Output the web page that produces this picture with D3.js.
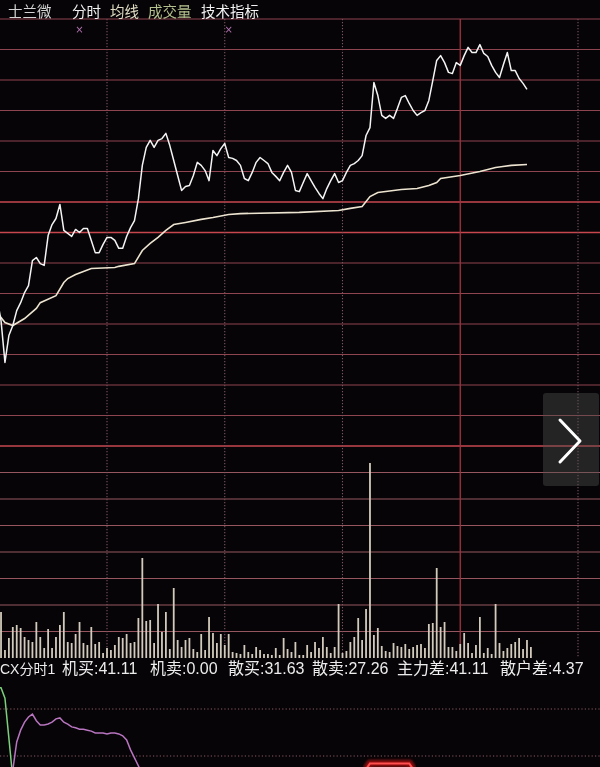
<!DOCTYPE html>
<html><head><meta charset="utf-8">
<script src="https://cdn.jsdelivr.net/npm/d3@7"></script>
<style>html,body{margin:0;padding:0;background:#060406;overflow:hidden}</style>
</head><body>
<svg id="chart" width="600" height="767"></svg>
<script>
// ---------------- DATA ----------------
const titleItems = ["士兰微", "分时", "均线", "成交量", "技术指标"];
const legendItems = ["CX分时1", "机买:41.11", "机卖:0.00", "散买:31.63", "散卖:27.26", "主力差:41.11", "散户差:4.37"];
// minutes since open where the vertical time grid sits (every 30 min, midday solid)
const timeTicks = [30, 60, 90, 120, 150];
const middayMinute = 120;
const markerMinutes = [23, 61];
// price change (%) vs previous close, one value per minute from minute 2
const priceStart = 2;
const priceChange = [-2.16,-2.89,-4.26,-3.38,-3.05,-2.56,-2.30,-1.97,-1.74,-0.92,-0.82,-1.02,-1.08,-0.10,0.26,0.46,0.92,0.07,-0.03,-0.13,0.10,0.00,0.13,0.13,-0.26,-0.66,-0.66,-0.39,-0.16,-0.16,-0.26,-0.52,-0.52,-0.13,0.16,0.39,1.11,2.20,2.79,3.02,2.79,3.02,3.08,3.25,2.85,2.36,1.87,1.38,1.51,1.54,1.87,2.30,2.20,2.03,1.70,2.69,2.52,2.75,2.92,2.46,2.43,2.36,2.20,1.77,1.70,1.97,2.30,2.46,2.36,2.26,1.97,1.84,1.70,1.97,2.20,1.97,1.38,1.34,1.64,1.93,1.70,1.48,1.28,1.11,1.44,1.70,1.93,1.64,1.70,1.97,2.20,2.26,2.36,2.52,3.18,3.44,4.92,4.49,3.84,3.74,3.84,3.74,4.07,4.43,4.49,4.23,4.00,3.84,3.93,4.00,4.33,4.98,5.64,5.80,5.57,5.25,5.21,5.57,5.48,5.80,6.07,5.90,5.90,6.16,5.87,5.77,5.48,5.25,5.08,5.51,5.90,5.31,5.31,5.05,4.89,4.69];
// average price line vertices
const avgMinutes = [2,4,6,9,12,13,17,19,20,22,24,26,32,33,37,39,41,43,45,47,50,54,57,61,64,79,89,92,95,97,99,105,109,112,114,115,120,125,129,133,137];
const avgChange = [-2.62,-2.95,-3.05,-2.82,-2.49,-2.30,-2.07,-1.64,-1.51,-1.38,-1.28,-1.18,-1.15,-1.11,-1.02,-0.59,-0.36,-0.16,0.07,0.26,0.33,0.43,0.49,0.59,0.62,0.66,0.72,0.79,0.85,1.18,1.31,1.41,1.44,1.54,1.64,1.77,1.87,2.00,2.13,2.20,2.23];
// volume (x100 lots), one bar per minute from minute 3
const volumeStart = 3;
const volumes = [46,8,20,31,33,30,21,18,16,36,21,10,29,10,21,33,46,16,15,24,36,15,13,31,14,16,5,10,8,13,21,20,24,15,16,40,100,37,38,15,54,26,46,9,70,18,11,18,20,9,6,24,8,41,25,15,24,13,24,6,5,4,13,6,4,11,8,4,4,3,10,3,20,9,6,16,3,3,13,6,16,10,21,11,5,11,54,5,7,16,21,40,18,49,195,23,30,12,7,6,15,12,11,14,9,11,13,14,10,34,35,90,31,36,11,11,7,14,25,15,5,13,41,5,10,4,54,15,7,10,14,16,20,9,18,11];
// price grid levels (%) and volume grid levels
const priceTicks = d3.range(-7, 8, 1);
const brightPriceTicks = [0, 1, -7];
const volumeTicks = d3.range(0, 213, 26.5);
// lower indicator (CX分时1)
const indTicks = [0, 100];
const greenMinutes = [2, 3, 4, 5, 6];
const greenValues = [145, 145, 123, 38, -47];
const purpleStart = 6;
const purpleValues = [-30,30,55,72,83,89,75,66,66,68,72,79,81,72,68,62,60,57,57,55,53,49,49,49,47,49,49,47,43,34,13,-4,-21,-38];
const redMinutes = [96, 97, 107, 108];
const redValues = [-28, -16, -16, -28];

// ---------------- LAYOUT ----------------
const W = 600, H = 767;
const svg = d3.select("#chart");
const defs = svg.append("defs");
const glow = defs.append("filter").attr("id", "glow").attr("x", "-5%").attr("y", "-300%").attr("width", "110%").attr("height", "700%");
glow.append("feGaussianBlur").attr("stdDeviation", 1.6);
const soft = defs.append("filter").attr("id", "soft");
soft.append("feGaussianBlur").attr("stdDeviation", 0.35);

svg.append("rect").attr("width", W).attr("height", H).attr("fill", "#060406");

const x = d3.scaleLinear().domain([0, 240]).range([-10.75, 931.25]);
const yP = d3.scaleLinear().domain([-7, 7]).range([446, 19]);
const yV = d3.scaleLinear().domain([0, 212]).range([658, 446]);
const yI = d3.scaleLinear().domain([0, 100]).range([756, 709]);

const g = svg.append("g").attr("filter", "url(#soft)");

// horizontal grid - price panel
const hp = g.append("g");
priceTicks.forEach(t => {
  const bright = brightPriceTicks.includes(t);
  hp.append("line").attr("x1", 0).attr("x2", W).attr("y1", yP(t)).attr("y2", yP(t))
    .attr("stroke", bright ? "#d01828" : "#a01828").attr("stroke-width", bright ? 4 : 3)
    .attr("opacity", bright ? 0.8 : 0.55).attr("filter", "url(#glow)");
  hp.append("line").attr("x1", 0).attr("x2", W).attr("y1", yP(t)).attr("y2", yP(t))
    .attr("stroke", bright ? "#c84650" : "#8e4450").attr("stroke-width", bright ? 1.6 : 1.2);
});
// horizontal grid - volume panel
volumeTicks.slice(1, -1).forEach(t => {
  hp.append("line").attr("x1", 0).attr("x2", W).attr("y1", yV(t)).attr("y2", yV(t))
    .attr("stroke", "#a01828").attr("stroke-width", 3).attr("opacity", 0.5).attr("filter", "url(#glow)");
  hp.append("line").attr("x1", 0).attr("x2", W).attr("y1", yV(t)).attr("y2", yV(t))
    .attr("stroke", "#955660").attr("stroke-width", 1.2);
});
// vertical grid
timeTicks.forEach(t => {
  const solid = t === middayMinute;
  if (solid) {
    g.append("line").attr("x1", x(t)).attr("x2", x(t)).attr("y1", 19).attr("y2", 658)
      .attr("stroke", "#c01828").attr("stroke-width", 3).attr("opacity", 0.6).attr("filter", "url(#glow)");
  }
  g.append("line").attr("x1", x(t)).attr("x2", x(t)).attr("y1", 19).attr("y2", 658)
    .attr("stroke", solid ? "#a83040" : "#7a5560").attr("stroke-width", solid ? 1.3 : 1.1)
    .attr("stroke-dasharray", solid ? null : "1.2,1.8");
});

// volume bars
g.append("g").selectAll("line").data(volumes).join("line")
  .attr("x1", (d, i) => x(volumeStart + i)).attr("x2", (d, i) => x(volumeStart + i))
  .attr("y1", yV(0)).attr("y2", d => yV(d))
  .attr("stroke", "#d2cabc").attr("stroke-width", 1.8);

// average line
const avgData = avgMinutes.map((m, i) => [m, avgChange[i]]);
g.append("path").datum(avgData)
  .attr("d", d3.line().x(d => x(d[0])).y(d => yP(d[1])))
  .attr("fill", "none").attr("stroke", "#ece4d0").attr("stroke-width", 1.6);
// price line
g.append("path").datum(priceChange)
  .attr("d", d3.line().x((d, i) => x(priceStart + i)).y(d => yP(d)))
  .attr("fill", "none").attr("stroke", "#f4f4f4").attr("stroke-width", 1.5).attr("stroke-linejoin", "round");

// x markers
markerMinutes.forEach(m => {
  g.append("text").attr("x", x(m)).attr("y", 33).attr("text-anchor", "middle")
    .attr("font-family", "DejaVu Sans").attr("font-size", 10).attr("fill", "#b070b0").text("×");
});

// title
const titleX = [8, 72, 110, 148, 201];
const titleColors = ["#d4d4d4", "#f0f0f0", "#e0dcc4", "#b4c08e", "#f2f2f2"];
titleItems.forEach((s, i) => {
  g.append("text").attr("x", titleX[i]).attr("y", 16.5)
    .attr("font-family", "'Noto Sans CJK SC', sans-serif").attr("font-size", 14.5)
    .attr("fill", titleColors[i]).text(s);
});

// legend
const legendX = [0, 62, 150, 228, 312, 397, 500];
const legendSize = [14, 16, 16, 16, 16, 16, 16];
legendItems.forEach((s, i) => {
  g.append("text").attr("x", legendX[i]).attr("y", 674)
    .attr("font-family", "'Liberation Sans', 'Noto Sans CJK SC', sans-serif").attr("font-size", legendSize[i])
    .attr("fill", "#ececec").text(s);
});

// lower indicator panel
indTicks.forEach(t => {
  g.append("line").attr("x1", 0).attr("x2", W).attr("y1", yI(t)).attr("y2", yI(t))
    .attr("stroke", "#8a5a64").attr("stroke-width", 1.2).attr("stroke-dasharray", "1.2,2.2");
});
const lowClip = defs.append("clipPath").attr("id", "lowclip");
lowClip.append("rect").attr("x", 0).attr("y", 680).attr("width", W).attr("height", 87);
const low = g.append("g").attr("clip-path", "url(#lowclip)");
low.append("path").datum(greenMinutes.map((m, i) => [m, greenValues[i]]))
  .attr("d", d3.line().x(d => x(d[0])).y(d => yI(d[1])))
  .attr("fill", "none").attr("stroke", "#7ccf7c").attr("stroke-width", 1.5);
low.append("path").datum(purpleValues)
  .attr("d", d3.line().x((d, i) => x(purpleStart + i)).y(d => yI(d)))
  .attr("fill", "none").attr("stroke", "#b874c0").attr("stroke-width", 1.5);
const redLine = d3.line().x(d => x(d[0])).y(d => yI(d[1]));
const redData = redMinutes.map((m, i) => [m, redValues[i]]);
low.append("path").datum(redData).attr("d", redLine)
  .attr("fill", "none").attr("stroke", "#d01818").attr("stroke-width", 7).attr("opacity", 0.7).attr("filter", "url(#glow)");
low.append("path").datum(redData).attr("d", redLine)
  .attr("fill", "none").attr("stroke", "#ff5050").attr("stroke-width", 2);

// right arrow button
svg.append("rect").attr("x", 543).attr("y", 393).attr("width", 56).attr("height", 93).attr("rx", 3)
  .attr("fill", "rgba(80,80,80,0.42)");
svg.append("path").attr("d", d3.line()([[560, 420], [580, 441], [560, 462]]))
  .attr("fill", "none").attr("stroke", "#ffffff").attr("stroke-width", 3).attr("stroke-linecap", "round").attr("stroke-linejoin", "round");
</script>
</body></html>
